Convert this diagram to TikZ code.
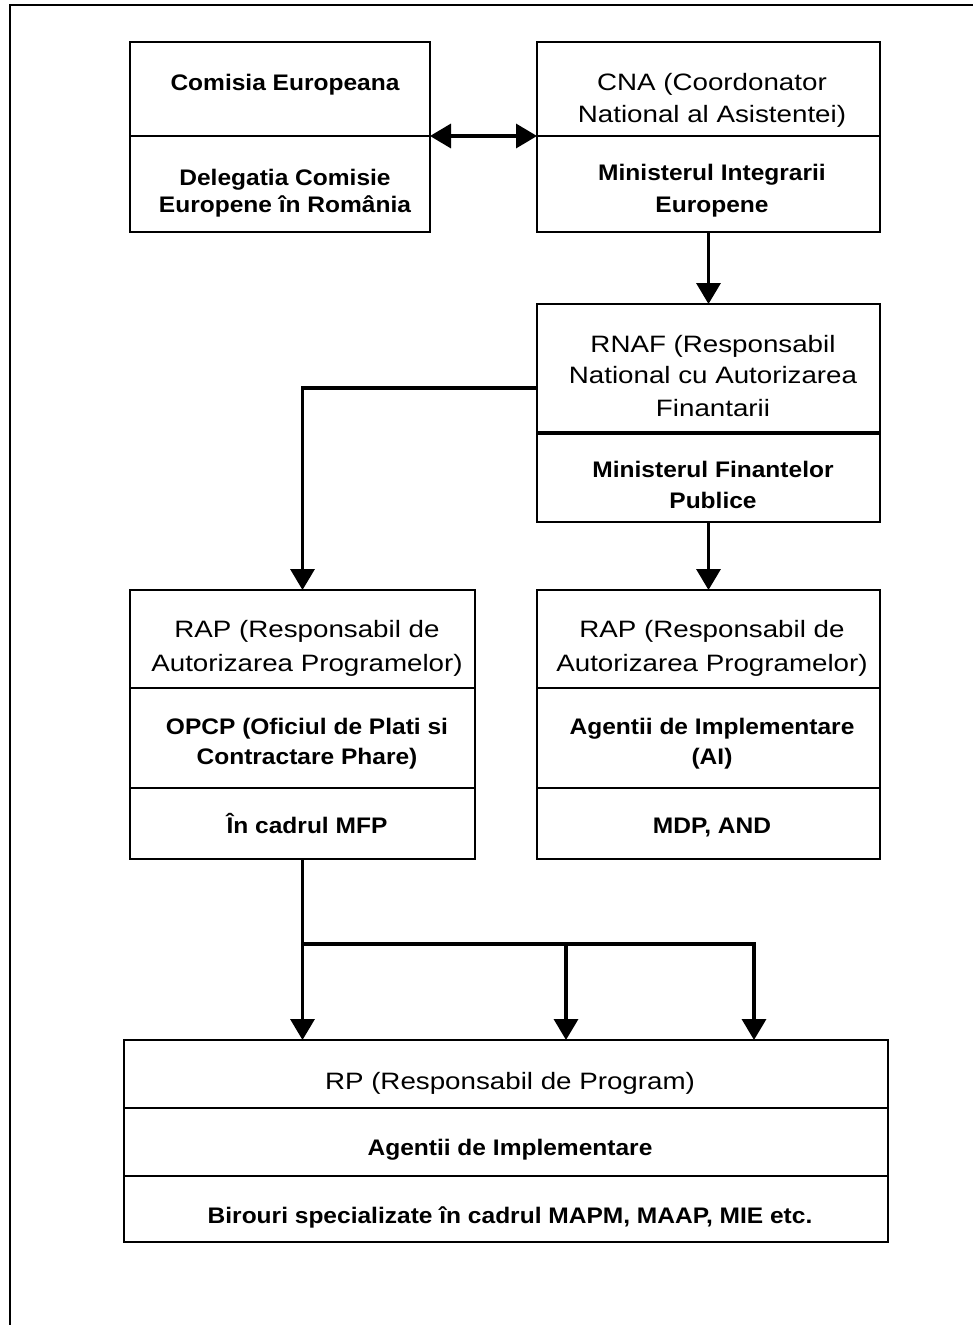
\documentclass[tikz,border=0pt]{standalone}
\usepackage{fontspec}
\newfontfamily\rgfont{Liberation Sans}[FakeStretch=1.17]
\newfontfamily\bdfont{Liberation Sans}[FakeStretch=1.09]
\usetikzlibrary{arrows.meta}
\begin{document}
\begin{tikzpicture}[x=1pt,y=-1pt,
  sec/.style={draw, line width=2.2pt, anchor=north west, inner sep=0pt, outer sep=0pt},
  rg/.style={anchor=base, inner sep=0pt, font=\rgfont\fontsize{23.7}{30}\selectfont},
  bd/.style={anchor=base, inner sep=0pt, font=\bdfont\bfseries\fontsize{22.5}{28}\selectfont},
  conn/.style={line width=3.5pt},
  >={Triangle[length=21pt,width=24pt]}
]
\useasboundingbox (0,0) rectangle (974,1325);
% outer frame (top and left edges only)
\draw[line width=2pt] (10,1325) -- (10,5) -- (973,5);

% Comisia Europeana
\node[sec, minimum width=300pt, minimum height=94pt] (ce-top) at (130,42) {};
\node[sec, minimum width=300pt, minimum height=96pt] (ce-bot) at (130,136) {};
% CNA
\node[sec, minimum width=343pt, minimum height=94pt] (cna-top) at (537,42) {};
\node[sec, minimum width=343pt, minimum height=96pt] (cna-bot) at (537,136) {};
% RNAF
\node[sec, minimum width=343pt, minimum height=129pt] (rnaf-top) at (537,304) {};
\node[sec, minimum width=343pt, minimum height=89pt] (rnaf-bot) at (537,433) {};
\draw[line width=4pt] (rnaf-bot.north west) -- (rnaf-bot.north east);
% RAP left
\node[sec, minimum width=345pt, minimum height=98pt] (rapl-a) at (130,590) {};
\node[sec, minimum width=345pt, minimum height=100pt] (rapl-b) at (130,688) {};
\node[sec, minimum width=345pt, minimum height=71pt] (rapl-c) at (130,788) {};
% RAP right
\node[sec, minimum width=343pt, minimum height=98pt] (rapr-a) at (537,590) {};
\node[sec, minimum width=343pt, minimum height=100pt] (rapr-b) at (537,688) {};
\node[sec, minimum width=343pt, minimum height=71pt] (rapr-c) at (537,788) {};
% RP
\node[sec, minimum width=764pt, minimum height=68pt] (rp-a) at (124,1040) {};
\node[sec, minimum width=764pt, minimum height=68pt] (rp-b) at (124,1108) {};
\node[sec, minimum width=764pt, minimum height=66pt] (rp-c) at (124,1176) {};

% texts
\node[bd] (t-ce1) at (285,90) {Comisia Europeana};
\node[bd] (t-ce2) at (285,185) {Delegatia Comisie};
\node[bd] (t-ce3) at (285,212) {Europene în România};

\node[rg] (t-cna1) at (712,90) {CNA (Coordonator};
\node[rg] (t-cna2) at (712,122) {National al Asistentei)};
\node[bd] (t-cna3) at (712,180) {Ministerul Integrarii};
\node[bd] (t-cna4) at (712,212) {Europene};

\node[rg] (t-rn1) at (713,352) {RNAF (Responsabil};
\node[rg] (t-rn2) at (713,383) {National cu Autorizarea};
\node[rg] (t-rn3) at (713,416) {Finantarii};
\node[bd] (t-rn4) at (713,477) {Ministerul Finantelor};
\node[bd] (t-rn5) at (713,508) {Publice};

\node[rg] (t-l1) at (307,637) {RAP (Responsabil de};
\node[rg] (t-l2) at (307,671) {Autorizarea Programelor)};
\node[bd] (t-l3) at (307,734) {OPCP (Oficiul de Plati si};
\node[bd] (t-l4) at (307,764) {Contractare Phare)};
\node[bd] (t-l5) at (307,833) {În cadrul MFP};

\node[rg] (t-r1) at (712,637) {RAP (Responsabil de};
\node[rg] (t-r2) at (712,671) {Autorizarea Programelor)};
\node[bd] (t-r3) at (712,734) {Agentii de Implementare};
\node[bd] (t-r4) at (712,764) {(AI)};
\node[bd] (t-r5) at (712,833) {MDP, AND};

\node[rg] (t-rp1) at (510,1089) {RP (Responsabil de Program)};
\node[bd] (t-rp2) at (510,1155) {Agentii de Implementare};
\node[bd] (t-rp3) at (510,1223) {Birouri specializate în cadrul MAPM, MAAP, MIE etc.};

% connectors
\draw[conn,<->] (ce-top.south east) -- (cna-top.south west);
\draw[conn,->] (cna-bot.south) -- (rnaf-top.north);
\draw[conn,->] ([yshift=-19.5pt]rnaf-top.west) -| (rapl-a.north);
\draw[conn,->] (rnaf-bot.south) -- (rapr-a.north);
\coordinate (jy) at (0,944);
\coordinate (j) at (rapl-c.south |- jy);
\draw[conn,->] (rapl-c.south) -- (rapl-c.south |- rp-a.north);
\draw[conn,->] (j) -| ([xshift=60pt]rp-a.north);
\draw[conn,->] (j) -| ([xshift=248pt]rp-a.north);
\end{tikzpicture}
\end{document}
